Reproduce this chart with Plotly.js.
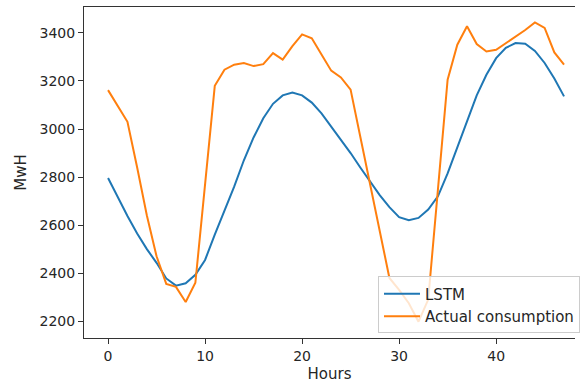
<!DOCTYPE html>
<html>
<head>
<meta charset="utf-8">
<script src="https://cdn.plot.ly/plotly-3.0.1.min.js"></script>
<style>html,body{margin:0;padding:0;background:#fff;}#chart{width:580px;height:385px;}</style>
</head>
<body>
<div id="chart"></div>
<script>
const hours = Array.from({length: 48}, (_, i) => i);
const lstm = [2796, 2715, 2638, 2565, 2500, 2443, 2378, 2348, 2358, 2393,
              2455, 2560, 2660, 2760, 2870, 2965, 3045, 3105, 3140, 3152,
              3140, 3110, 3065, 3010, 2960, 2900, 2840, 2780, 2725, 2675,
              2633, 2620, 2630, 2665, 2720, 2815, 2925, 3035, 3140, 3226,
              3295, 3338, 3358, 3355, 3325, 3275, 3210, 3136];
const actual = [3162, 3095, 3030, 2840, 2640, 2470, 2355, 2343, 2280, 2360,
                2775, 3180, 3247, 3268, 3275, 3262, 3270, 3316, 3289, 3345,
                3394, 3378, 3310, 3243, 3215, 3164, 2968, 2772, 2576, 2380,
                2330, 2275, 2198, 2290, 2748, 3205, 3351, 3428, 3354, 3323,
                3330, 3358, 3385, 3412, 3444, 3421, 3319, 3268];
const seriesNames = ["LSTM", "Actual consumption"];
const xTicks = [0, 10, 20, 30, 40];
const yTicks = [2200, 2400, 2600, 2800, 3000, 3200, 3400];

const txt = "#262626";
const data = [
  {x: hours, y: lstm, name: seriesNames[0], type: "scatter", mode: "lines",
   line: {color: "#1f77b4", width: 2}},
  {x: hours, y: actual, name: seriesNames[1], type: "scatter", mode: "lines",
   line: {color: "#ff7f0e", width: 2}}
];
const layout = {
  width: 580, height: 385,
  margin: {l: 84, r: 0, t: 7, b: 47},
  paper_bgcolor: "#fff", plot_bgcolor: "#fff",
  font: {family: "DejaVu Sans", size: 14, color: txt},
  showlegend: true,
  legend: {x: 0.599, xanchor: "left", y: 0.186, yanchor: "top",
           bgcolor: "rgba(255,255,255,0.8)", bordercolor: "#cccccc", borderwidth: 1,
           font: {family: "DejaVu Sans", size: 15, color: txt},
           itemwidth: 36, tracegroupgap: 0},
  xaxis: {range: [-2.48, 48.13], tickvals: xTicks, ticktext: xTicks.map(String),
          showgrid: false, zeroline: false, showline: true, linecolor: "#333",
          linewidth: 1, mirror: true, ticks: "outside", ticklen: 5, tickcolor: "#333",
          title: {text: "Hours", font: {family: "DejaVu Sans", size: 15, color: txt}, standoff: 5}},
  yaxis: {range: [2130, 3508], tickvals: yTicks, ticktext: yTicks.map(String),
          showgrid: false, zeroline: false, showline: true, linecolor: "#333",
          linewidth: 1, mirror: false, ticks: "outside", ticklen: 5, tickcolor: "#333",
          title: {text: "MwH", font: {family: "DejaVu Sans", size: 15, color: txt}, standoff: 9}}
};
Plotly.newPlot("chart", data, layout, {displayModeBar: false, staticPlot: true});
</script>
</body>
</html>
